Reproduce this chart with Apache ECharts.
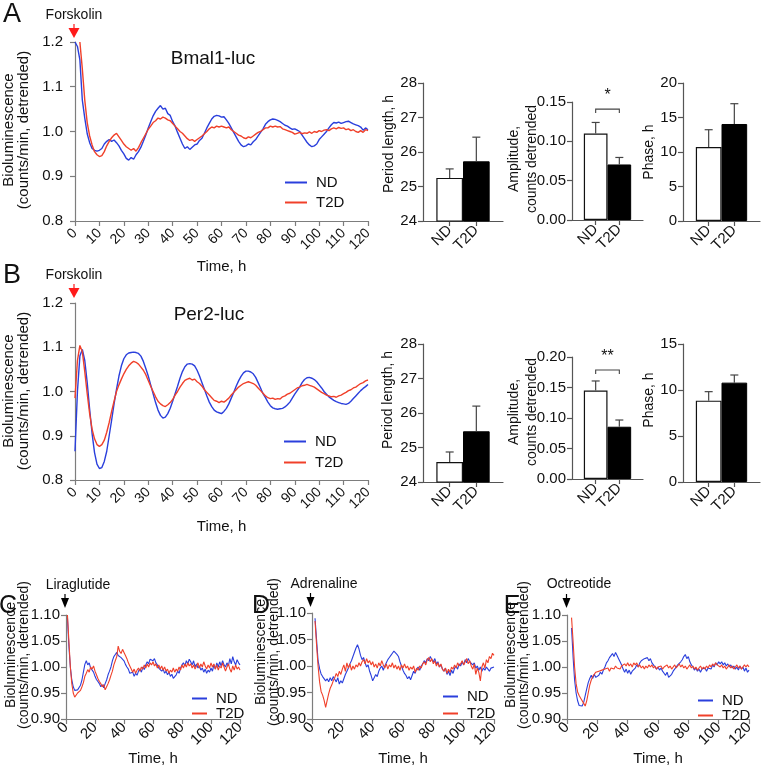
<!DOCTYPE html>
<html>
<head>
<meta charset="utf-8">
<script src="https://cdn.jsdelivr.net/npm/echarts@6.0.0/dist/echarts.min.js"></script>
<style>html,body{margin:0;padding:0;background:#fff}#c{width:762px;height:767px}</style>
</head>
<body>
<div id="c"></div>
<script>
// ---------- DATA ----------
const hours = Array.from({length: 121}, (_, i) => i);
const seriesNames = ['ND', 'T2D'];

const bmalND = [1.200,1.190,1.160,1.070,1.030,0.995,0.975,0.962,0.958,0.956,
 0.958,0.962,0.972,0.978,0.982,0.978,0.981,0.975,0.968,0.958,
 0.950,0.940,0.936,0.942,0.938,0.948,0.955,0.965,0.978,0.992,
 1.008,1.022,1.035,1.045,1.052,1.058,1.050,1.052,1.040,1.036,
 1.022,1.012,0.998,0.985,0.972,0.962,0.966,0.960,0.965,0.970,
 0.972,0.980,0.985,0.996,1.008,1.018,1.028,1.034,1.036,1.035,
 1.032,1.033,1.026,1.018,1.008,0.998,0.988,0.978,0.970,0.966,
 0.968,0.972,0.970,0.977,0.982,0.990,0.998,1.006,1.016,1.022,
 1.026,1.028,1.027,1.025,1.022,1.018,1.014,1.012,1.008,1.005,
 1.006,1.003,1.000,0.992,0.984,0.976,0.970,0.966,0.968,0.972,
 0.982,0.988,0.994,1.000,1.008,1.015,1.020,1.019,1.021,1.018,
 1.020,1.022,1.023,1.020,1.017,1.015,1.013,1.010,1.003,1.008,
 1.004];
const bmalT2D = [null,null,1.200,1.140,1.070,1.020,0.990,0.970,0.955,0.948,
 0.944,0.946,0.955,0.968,0.978,0.986,0.992,0.996,0.988,0.980,
 0.972,0.966,0.962,0.958,0.962,0.956,0.964,0.975,0.985,0.995,
 1.005,1.012,1.020,1.024,1.030,1.028,1.032,1.030,1.026,1.024,
 1.018,1.012,1.006,1.000,0.996,0.990,0.984,0.980,0.982,0.978,
 0.982,0.986,0.990,0.995,1.000,1.006,1.010,1.008,1.012,1.010,
 1.012,1.010,1.008,1.010,1.004,1.000,0.996,0.992,0.990,0.986,
 0.984,0.988,0.986,0.990,0.994,0.998,1.000,1.004,1.008,1.008,
 1.012,1.010,1.012,1.010,1.011,1.006,1.004,1.002,1.000,0.998,
 0.994,0.996,0.998,0.995,0.997,0.996,0.999,0.996,1.000,0.998,
 1.002,1.000,1.003,1.004,1.002,1.006,1.008,1.006,1.009,1.007,
 1.008,1.004,1.006,1.002,1.004,1.000,0.998,1.002,0.998,1.004,
 1.002];

const per2ND = [0.865,1.000,1.080,1.095,1.070,1.020,0.960,0.905,0.862,0.836,
 0.826,0.828,0.842,0.865,0.900,0.935,0.972,1.005,1.035,1.058,
 1.074,1.083,1.087,1.088,1.089,1.088,1.086,1.080,1.068,1.052,
 1.035,1.015,0.995,0.975,0.958,0.946,0.940,0.942,0.950,0.962,
 0.978,0.995,1.012,1.030,1.045,1.056,1.062,1.063,1.062,1.058,
 1.048,1.035,1.020,1.005,0.990,0.976,0.966,0.958,0.954,0.952,
 0.950,0.955,0.962,0.972,0.985,0.998,1.012,1.024,1.034,1.042,
 1.046,1.046,1.044,1.040,1.032,1.020,1.008,0.995,0.986,0.976,
 0.968,0.963,0.961,0.960,0.961,0.962,0.965,0.970,0.976,0.985,
 0.994,1.002,1.010,1.020,1.027,1.031,1.032,1.030,1.027,1.022,
 1.015,1.008,1.000,0.994,0.988,0.984,0.980,0.977,0.975,0.973,
 0.972,0.971,0.973,0.978,0.984,0.990,0.996,1.002,1.007,1.011,
 1.016];
const per2T2D = [0.985,1.070,1.104,1.090,1.045,0.995,0.950,0.915,0.893,0.880,
 0.876,0.880,0.890,0.908,0.930,0.955,0.978,1.000,1.015,1.028,
 1.040,1.050,1.058,1.064,1.068,1.066,1.062,1.055,1.048,1.038,
 1.025,1.012,1.000,0.988,0.978,0.972,0.968,0.966,0.970,0.975,
 0.982,0.992,1.000,1.010,1.018,1.025,1.028,1.030,1.026,1.028,
 1.022,1.018,1.012,1.004,0.998,0.992,0.986,0.980,0.978,0.975,
 0.978,0.976,0.980,0.985,0.992,0.998,1.004,1.010,1.014,1.018,
 1.020,1.022,1.020,1.018,1.014,1.008,1.002,0.996,0.990,0.986,
 0.984,0.985,0.982,0.984,0.983,0.988,0.990,0.994,0.996,1.000,
 1.004,1.008,1.010,1.013,1.014,1.016,1.014,1.012,1.010,1.006,
 1.002,0.998,0.995,0.992,0.990,0.988,0.989,0.987,0.990,0.992,
 0.995,0.998,1.002,1.004,1.008,1.010,1.014,1.018,1.020,1.024,
 1.026];

const liraND = [null,1.095,1.040,1.000,0.975,0.962,0.955,0.952,0.956,0.958,
 0.965,0.975,0.990,1.005,1.012,1.004,1.008,0.998,0.995,0.990,
 0.982,0.976,0.972,0.968,0.962,0.966,0.960,0.968,0.975,0.985,
 0.992,1.000,1.012,1.020,1.024,1.028,1.022,1.025,1.018,1.020,
 1.012,1.005,1.000,0.996,0.988,0.985,0.990,0.982,0.988,0.984,
 0.992,0.996,0.990,1.000,0.995,1.004,1.010,1.006,1.015,1.018,
 1.012,1.016,1.008,1.004,0.998,1.000,0.992,0.996,0.988,0.992,
 0.985,0.990,0.982,0.986,0.978,0.975,0.985,0.992,0.988,0.998,
 1.004,1.008,1.002,1.012,1.006,1.015,1.010,1.004,1.012,1.000,
 1.006,0.998,1.002,0.994,0.998,0.990,0.996,0.988,0.994,0.990,
 0.998,0.992,1.004,0.996,1.008,1.000,1.010,1.002,1.012,1.004,
 1.000,1.008,1.002,1.016,1.006,1.020,1.010,1.004,1.014,1.008,
 1.004];
const liraT2D = [null,1.100,1.050,1.000,0.968,0.950,0.942,0.945,0.950,0.948,
 0.955,0.962,0.970,0.982,0.988,0.995,0.990,1.000,0.996,1.002,
 0.992,0.985,0.978,0.972,0.968,0.962,0.966,0.956,0.962,0.968,
 0.975,0.984,0.992,1.004,1.012,1.020,1.040,1.030,1.026,1.034,
 1.028,1.022,1.016,1.008,1.002,0.996,0.990,0.996,0.988,0.994,
 0.998,0.992,1.000,0.996,1.004,0.998,1.006,1.000,1.008,1.004,
 1.010,1.002,1.006,0.998,1.004,0.996,1.002,0.994,1.000,0.992,
 0.996,0.988,0.994,0.990,0.998,0.990,0.996,0.992,1.000,0.994,
 1.004,0.998,1.006,1.000,1.008,1.002,1.006,0.998,1.004,0.996,
 1.002,1.008,0.998,1.006,1.000,1.010,1.002,0.996,1.004,0.998,
 1.008,1.000,1.006,0.996,1.004,0.994,1.002,0.998,1.008,1.000,
 0.992,1.000,1.006,0.996,0.990,1.002,0.994,1.004,0.996,1.000,
 0.994];

const adrND = [null,null,1.090,1.050,1.010,0.995,0.985,0.980,0.978,0.972,
 0.976,0.970,0.978,0.972,0.980,0.975,0.970,0.978,0.966,0.972,
 0.968,0.976,0.984,0.990,0.996,1.004,1.010,1.018,1.026,1.034,
 1.040,1.032,1.020,1.012,1.016,1.006,0.998,1.002,0.990,0.982,
 0.972,0.978,0.984,0.980,0.990,0.996,1.000,0.992,1.000,1.006,
 1.012,1.016,1.020,1.024,1.028,1.030,1.022,1.018,1.008,1.000,
 0.992,0.986,0.982,0.976,0.980,0.974,0.982,0.990,0.986,0.994,
 0.998,0.992,1.000,1.004,1.010,1.006,1.014,1.010,1.018,1.012,
 1.008,1.014,1.004,1.008,0.998,1.002,0.994,0.990,0.996,0.984,
 0.990,0.982,0.992,0.986,0.996,1.000,0.994,1.004,1.000,1.008,
 1.002,1.012,1.006,1.014,1.008,1.010,1.002,1.006,0.996,1.000,
 0.992,0.998,0.990,0.996,0.992,0.998,0.994,0.990,0.996,0.994,
 0.998];
const adrT2D = [null,null,1.085,1.040,1.000,0.970,0.952,0.945,0.935,0.922,
 0.935,0.948,0.958,0.964,0.972,0.978,0.986,0.980,0.990,0.984,
 0.994,1.002,0.990,1.006,0.996,1.004,0.992,1.000,0.994,1.002,
 0.998,1.006,1.000,1.008,1.012,1.004,1.014,1.006,1.010,1.002,
 1.008,0.998,1.004,0.996,1.006,1.000,1.010,1.002,0.996,1.004,
 0.994,1.002,0.998,1.006,0.996,1.002,0.994,1.000,0.992,1.002,
 0.996,1.004,0.996,1.000,0.992,0.998,0.994,1.000,0.988,0.996,
 0.992,1.000,0.996,1.004,1.008,1.002,1.012,1.016,1.008,1.014,
 1.004,1.010,1.000,1.006,0.998,1.004,0.994,0.990,0.996,0.986,
 0.994,0.988,0.998,0.994,1.002,0.996,1.006,1.000,1.004,1.010,
 1.002,1.008,1.014,1.004,1.010,1.000,0.994,1.004,0.984,0.996,
 0.988,0.972,0.998,1.006,0.996,1.012,1.006,1.018,1.014,1.024,
 1.020];

const octND = [null,null,null,1.075,1.020,0.975,0.950,0.935,0.926,0.928,
 0.925,0.932,0.945,0.958,0.970,0.978,0.984,0.978,0.986,0.980,
 0.978,0.984,0.990,0.986,0.994,1.000,1.008,1.012,1.018,1.022,
 1.026,1.020,1.028,1.022,1.016,1.010,1.004,0.996,0.990,0.996,
 0.988,0.994,0.986,0.992,0.990,0.998,1.004,1.000,1.008,1.012,
 1.010,1.016,1.014,1.018,1.012,1.016,1.008,1.004,1.000,0.996,
 1.000,0.994,0.998,0.992,0.988,0.984,0.990,0.980,0.978,0.986,
 0.992,0.996,1.000,1.004,1.002,1.010,1.014,1.020,1.024,1.016,
 1.020,1.010,1.004,1.000,0.994,0.998,0.992,0.996,0.990,0.996,
 0.994,0.998,0.992,0.998,1.000,0.996,1.004,1.000,1.008,1.004,
 1.010,1.006,1.010,1.004,1.008,1.002,1.006,1.000,1.004,0.998,
 1.002,0.996,1.000,0.994,1.002,0.996,1.000,0.992,0.998,0.990,
 0.994];
const octT2D = [null,null,null,1.095,1.050,1.000,0.968,0.952,0.945,0.940,
 0.935,0.930,0.925,0.935,0.950,0.965,0.975,0.982,0.986,0.990,
 0.988,0.992,0.990,0.994,0.992,0.996,0.994,0.998,0.992,0.998,
 1.000,0.996,1.002,0.998,1.000,0.996,1.002,1.000,1.006,1.002,
 1.008,1.002,1.006,1.000,1.008,1.004,1.008,1.000,1.004,0.998,
 1.002,0.996,1.002,0.998,1.004,1.000,1.004,0.998,1.002,0.996,
 1.000,0.998,1.002,0.996,1.000,0.998,1.004,0.998,1.002,0.996,
 1.000,1.004,0.998,1.002,1.006,1.000,1.004,0.998,1.002,0.996,
 1.000,1.004,0.998,1.002,0.996,1.000,0.994,0.998,1.002,0.996,
 1.000,0.996,1.002,0.998,1.004,1.000,1.006,1.002,1.008,1.004,
 1.006,1.000,1.004,0.998,1.002,0.996,1.000,1.004,0.998,1.002,
 0.996,1.000,1.004,0.998,1.002,0.996,1.000,1.004,1.000,1.004,
 1.000];

// bar charts: [ND, T2D] means and mean+SEM tops
const barCats = ['', 'ND', 'T2D', ''];
const bmalPeriod = [25.25, 25.73], bmalPeriodErr = [25.51, 26.43];
const bmalAmp = [0.110, 0.0706], bmalAmpErr = [0.124, 0.0795];
const bmalPhase = [10.72, 14.06], bmalPhaseErr = [13.23, 17.0];
const per2Period = [24.58, 25.47], per2PeriodErr = [24.87, 26.2];
const per2Amp = [0.145, 0.0857], per2AmpErr = [0.1607, 0.0967];
const per2Phase = [8.84, 10.8], per2PhaseErr = [9.82, 11.63];
const bmalSig = {y: 0.141, label: '*'};
const per2Sig = {y: 0.1787, label: '**'};

// ---------- STYLE ----------
const FONT = '"Liberation Sans", Arial, sans-serif';
const BLUE = '#2a3fdc', RED = '#f0402a';
const LAX = '#7d7d7d', BAX = '#555';

const grids = [
  {left: 75, top: 42, width: 293, height: 179},
  {left: 423, top: 83, width: 80, height: 138},
  {left: 572, top: 102, width: 71, height: 118},
  {left: 683, top: 83, width: 77, height: 138},
  {left: 75, top: 303, width: 293, height: 177},
  {left: 423, top: 344, width: 80, height: 138},
  {left: 572, top: 357, width: 71, height: 122},
  {left: 683, top: 344, width: 77, height: 138},
  {left: 66, top: 615, width: 174, height: 108},
  {left: 312, top: 613, width: 182, height: 111},
  {left: 567, top: 615, width: 182, height: 111}
];

function yAx(gi, min, max, interval, dec, color, margin) {
  return {gridIndex: gi, type: 'value', min, max, interval,
    axisLine: {show: true, lineStyle: {color, width: 1.2}},
    axisTick: {show: true, length: 5, lineStyle: {color, width: 1.2}},
    splitLine: {show: false},
    axisLabel: {margin, color: '#111', fontSize: 15, fontFamily: FONT, formatter: v => v.toFixed(dec)}};
}
function xTime(gi, interval, nameGap, fontSize, margin) {
  return {gridIndex: gi, type: 'value', min: 0, max: 120, interval,
    axisLine: {show: true, lineStyle: {color: LAX, width: 1.2}},
    axisTick: {show: true, length: 5, lineStyle: {color: LAX, width: 1.2}},
    splitLine: {show: false},
    axisLabel: {rotate: 45, margin, color: '#111', fontSize, fontFamily: FONT},
    name: 'Time, h', nameLocation: 'middle', nameGap,
    nameTextStyle: {fontSize: 15, fontFamily: FONT, color: '#111'}};
}
function xBar(gi) {
  const show = (i, v) => v !== '';
  return {gridIndex: gi, type: 'category', data: barCats, boundaryGap: false,
    axisLine: {show: true, lineStyle: {color: BAX, width: 1.2}},
    axisTick: {show: true, length: 5, interval: show, lineStyle: {color: BAX, width: 1.2}},
    axisLabel: {rotate: 45, margin: 7, interval: show, color: '#111', fontSize: 15, fontFamily: FONT},
    splitLine: {show: false}};
}

function lineSeries(gi, name, arr, color, width) {
  return {type: 'line', name, xAxisIndex: gi, yAxisIndex: gi, color,
    data: hours.map((h, i) => [h, arr[i]]), symbol: 'none', showSymbol: false,
    lineStyle: {width, color}, silent: true, z: name === 'T2D' ? 3 : 2};
}
function barSeries(gi, vals) {
  return {type: 'bar', name: 'bars' + gi, xAxisIndex: gi, yAxisIndex: gi, barWidth: '100%', silent: true,
    data: ['-', {value: vals[0], itemStyle: {color: '#fff', borderColor: '#111', borderWidth: 1.2}},
           {value: vals[1], itemStyle: {color: '#000', borderColor: '#000', borderWidth: 1}}, '-']};
}
function errSeries(gi, vals, tops) {
  return {type: 'custom', name: 'err' + gi, xAxisIndex: gi, yAxisIndex: gi, silent: true, z: 4,
    data: [[1, vals[0], tops[0]], [2, vals[1], tops[1]]],
    encode: {x: 0, y: [1, 2]},
    renderItem: (params, api) => {
      const p0 = api.coord([api.value(0), api.value(1)]);
      const p1 = api.coord([api.value(0), api.value(2)]);
      const st = {stroke: '#444', lineWidth: 1.2};
      return {type: 'group', children: [
        {type: 'line', shape: {x1: p0[0], y1: p0[1], x2: p1[0], y2: p1[1]}, style: st},
        {type: 'line', shape: {x1: p1[0] - 4, y1: p1[1], x2: p1[0] + 4, y2: p1[1]}, style: st}
      ]};
    }};
}
function sigSeries(gi, sig) {
  return {type: 'custom', name: 'sig' + gi, xAxisIndex: gi, yAxisIndex: gi, silent: true, z: 4, clip: false,
    data: [[1, 2, sig.y]], encode: {x: [0, 1], y: 2},
    renderItem: (params, api) => {
      const a = api.coord([api.value(0), api.value(2)]);
      const b = api.coord([api.value(1), api.value(2)]);
      return {type: 'group', children: [
        {type: 'polyline', shape: {points: [[a[0], a[1] + 4], [a[0], a[1]], [b[0], b[1]], [b[0], b[1] + 4]]},
          style: {stroke: '#444', fill: null, lineWidth: 1.1}},
        {type: 'text', x: (a[0] + b[0]) / 2, y: a[1] - 13,
          style: {text: sig.label, font: '16px ' + FONT, fill: '#111', align: 'center', verticalAlign: 'middle',
                  textAlign: 'center', textVerticalAlign: 'middle'}}
      ]};
    }};
}

function txt(x, y, text, size, extra) {
  return Object.assign({type: 'text', x, y, z: 100, silent: true,
    style: {text, font: size + 'px ' + FONT, fill: '#111', align: 'center', verticalAlign: 'middle',
            textAlign: 'center', textVerticalAlign: 'middle'}}, extra || {});
}
function vtxt(x, y, text, size, lh) {
  const t = txt(x, y, text, size, {rotation: Math.PI / 2});
  t.style.lineHeight = lh;
  return t;
}
function arrow(x, yTop, color, w, h) {
  return [
    {type: 'line', z: 100, silent: true, shape: {x1: x, y1: yTop - 4, x2: x, y2: yTop + 1}, style: {stroke: color, lineWidth: 1.2}},
    {type: 'polygon', z: 100, silent: true, shape: {points: [[x - w / 2, yTop], [x + w / 2, yTop], [x, yTop + h]]}, style: {fill: color}}
  ];
}

const yName = 'Bioluminescence\n(counts/min, detrended)';
const graphics = [
  txt(12, 15, 'A', 27), txt(12, 276, 'B', 27),
  txt(8, 606, 'C', 25), txt(261, 606, 'D', 25), txt(512, 606, 'E', 25),
  txt(74, 15, 'Forskolin', 14), txt(74, 275, 'Forskolin', 14),
  txt(213, 59, 'Bmal1-luc', 19), txt(209, 315, 'Per2-luc', 19),
  txt(78, 585, 'Liraglutide', 14), txt(324, 584, 'Adrenaline', 14), txt(579, 584, 'Octreotide', 14),
  ...arrow(74, 28, '#ff1a1a', 11, 10), ...arrow(74, 288, '#ff1a1a', 11, 10),
  ...arrow(65, 598, '#000', 8, 10), ...arrow(310.5, 597, '#000', 8, 10), ...arrow(566.5, 598, '#000', 8, 10),
  vtxt(16.5, 130, yName, 15, 15), vtxt(16.5, 391, yName, 15, 15),
  vtxt(17.5, 655, yName, 14, 13), vtxt(267.5, 652, yName, 14, 13), vtxt(517.5, 655, yName, 14, 13),
  vtxt(389, 144, 'Period length, h', 14, 16), vtxt(523, 159, 'Amplitude,\ncounts detrended', 14, 18), vtxt(649, 152, 'Phase, h', 14, 16),
  vtxt(388, 400, 'Period length, h', 14, 16), vtxt(523, 412, 'Amplitude,\ncounts detrended', 14, 18), vtxt(649, 400, 'Phase, h', 14, 16)
];

function legend(left, top, itemWidth, gap, lh) {
  return {show: true, orient: 'vertical', left, top, padding: 0, itemGap: gap, itemWidth, itemHeight: 2,
    icon: 'rect', selectedMode: false, data: seriesNames,
    textStyle: {fontSize: 15, fontFamily: FONT, color: '#111', lineHeight: lh, padding: [0, 0, 0, 4]}};
}

const option = {
  animation: false,
  grid: grids,
  xAxis: [
    xTime(0, 10, 38, 14, 10), xBar(1), xBar(2), xBar(3),
    xTime(4, 10, 39, 14, 10), xBar(5), xBar(6), xBar(7),
    xTime(8, 20, 21, 15, 6), xTime(9, 20, 21, 15, 6), xTime(10, 20, 17, 15, 6)
  ],
  yAxis: [
    yAx(0, 0.8, 1.2, 0.1, 1, LAX, 12), yAx(1, 24, 28, 1, 0, BAX, 6), yAx(2, 0, 0.15, 0.05, 2, BAX, 6), yAx(3, 0, 20, 5, 0, BAX, 6),
    yAx(4, 0.8, 1.2, 0.1, 1, LAX, 12), yAx(5, 24, 28, 1, 0, BAX, 6), yAx(6, 0, 0.2, 0.05, 2, BAX, 6), yAx(7, 0, 15, 5, 0, BAX, 6),
    yAx(8, 0.9, 1.1, 0.05, 2, LAX, 6), yAx(9, 0.9, 1.1, 0.05, 2, LAX, 6), yAx(10, 0.9, 1.1, 0.05, 2, LAX, 6)
  ],
  legend: [
    legend(285, 175, 22, 5, 15), legend(284, 434, 22, 6, 15),
    legend(192, 691, 15, 0, 14), legend(443, 689, 15, 2, 15), legend(698, 693, 15, 0, 14)
  ],
  graphic: {elements: graphics},
  series: [
    lineSeries(0, 'ND', bmalND, BLUE, 1.4), lineSeries(0, 'T2D', bmalT2D, RED, 1.4),
    barSeries(1, bmalPeriod), errSeries(1, bmalPeriod, bmalPeriodErr),
    barSeries(2, bmalAmp), errSeries(2, bmalAmp, bmalAmpErr), sigSeries(2, bmalSig),
    barSeries(3, bmalPhase), errSeries(3, bmalPhase, bmalPhaseErr),
    lineSeries(4, 'ND', per2ND, BLUE, 1.4), lineSeries(4, 'T2D', per2T2D, RED, 1.4),
    barSeries(5, per2Period), errSeries(5, per2Period, per2PeriodErr),
    barSeries(6, per2Amp), errSeries(6, per2Amp, per2AmpErr), sigSeries(6, per2Sig),
    barSeries(7, per2Phase), errSeries(7, per2Phase, per2PhaseErr),
    lineSeries(8, 'ND', liraND, BLUE, 1.1), lineSeries(8, 'T2D', liraT2D, RED, 1.1),
    lineSeries(9, 'ND', adrND, BLUE, 1.1), lineSeries(9, 'T2D', adrT2D, RED, 1.1),
    lineSeries(10, 'ND', octND, BLUE, 1.1), lineSeries(10, 'T2D', octT2D, RED, 1.1)
  ]
};

const chart = echarts.init(document.getElementById('c'), null, {renderer: 'canvas'});
chart.setOption(option);
</script>
</body>
</html>
